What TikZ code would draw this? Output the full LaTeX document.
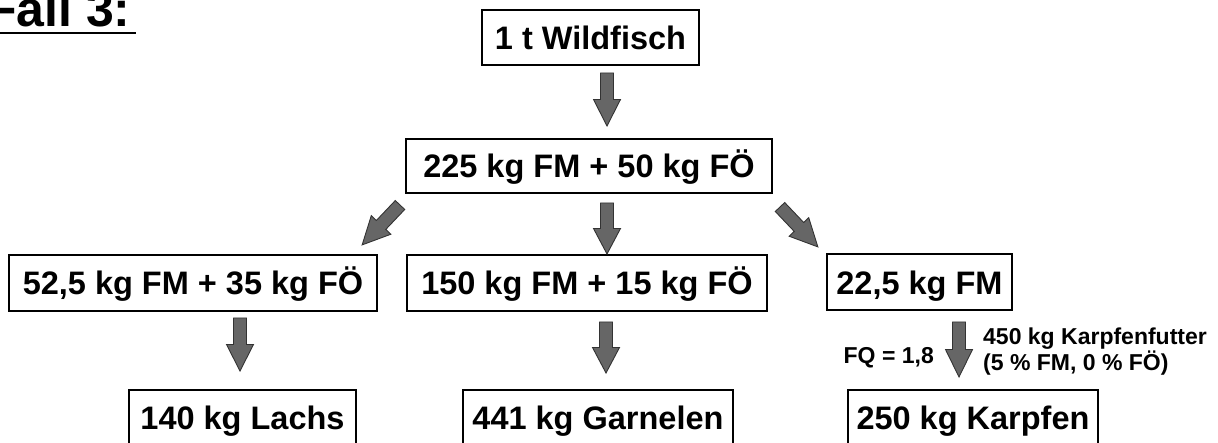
\documentclass[tikz,border=0pt]{standalone}
\usepackage{fontspec}
\setmainfont{Liberation Sans}
\usetikzlibrary{calc}
\definecolor{arrowgray}{HTML}{666666}
\definecolor{arrowline}{HTML}{333333}
\tikzset{
  box/.style={draw=black, line width=2pt, inner sep=0pt, font=\bfseries\fontsize{32.5}{38}\selectfont, text height=23.5pt, text depth=0pt},
  small/.style={inner sep=0pt, font=\bfseries\fontsize{23}{27}\selectfont},
  pics/barrow/.style={code={
    \filldraw[fill=arrowgray, draw=arrowline, line width=0.9pt, line join=miter]
      (0,-6.5) -- (#1*0.5,-6.5) -- (#1*0.5,-13.5) -- (#1,0) -- (#1*0.5,13.5) -- (#1*0.5,6.5) -- (0,6.5) -- cycle;
  }},
}
\begin{document}
\begin{tikzpicture}[x=1pt, y=-1pt]
\useasboundingbox (0,0) rectangle (1218,443);

% title
\node[anchor=base west, inner sep=0pt, font=\bfseries\fontsize{50}{58}\selectfont] (title) at (-14,27) {Fall 3:};
\draw[line width=2.5pt] (-14,33) -- (136,33);

% boxes
\node[box, minimum width=217pt, minimum height=55pt] (n1) at (590.5,37.5) {1 t Wildfisch};
\node[box, minimum width=366pt, minimum height=54pt] (n2) at (589,166) {225 kg FM + 50 kg FÖ};
\node[box, minimum width=368pt, minimum height=56pt] (nA) at (193,283) {52,5 kg FM + 35 kg FÖ};
\node[box, minimum width=360pt, minimum height=56pt] (nB) at (587,283) {150 kg FM + 15 kg FÖ};
\node[box, minimum width=185pt, minimum height=56pt] (nC) at (919.5,282.5) {22,5 kg FM};
\node[box, minimum width=227pt, minimum height=56pt] (nL) at (242.5,418) {140 kg Lachs};
\node[box, minimum width=270pt, minimum height=56pt] (nG) at (598,418) {441 kg Garnelen};
\node[box, minimum width=250pt, minimum height=56pt] (nK) at (973,418) {250 kg Karpfen};

% labels
\node[small, anchor=base east] (fq) at (934,364) {FQ = 1,8};
\node[small, anchor=base west, align=left] (futter) at (983,371) {450 kg Karpfenfutter\\(5 \% FM, 0 \% FÖ)};

% block arrows
\coordinate (a1) at (607,73);
\coordinate (a2) at (607,203);
\coordinate (aL) at (400,205);
\coordinate (aR) at (780,207);
\coordinate (a3) at (240,318);
\coordinate (a4) at (606,322);
\coordinate (a5) at (959,322);
\pic[rotate=-90] at (a1) {barrow=53};
\pic[rotate=-90] at (a2) {barrow=51};
\pic[rotate=-133.5] at (aL) {barrow=55};
\pic[rotate=-46.5] at (aR) {barrow=55};
\pic[rotate=-90] at (a3) {barrow=53};
\pic[rotate=-90] at (a4) {barrow=51};
\pic[rotate=-90] at (a5) {barrow=55};
\end{tikzpicture}
\end{document}
